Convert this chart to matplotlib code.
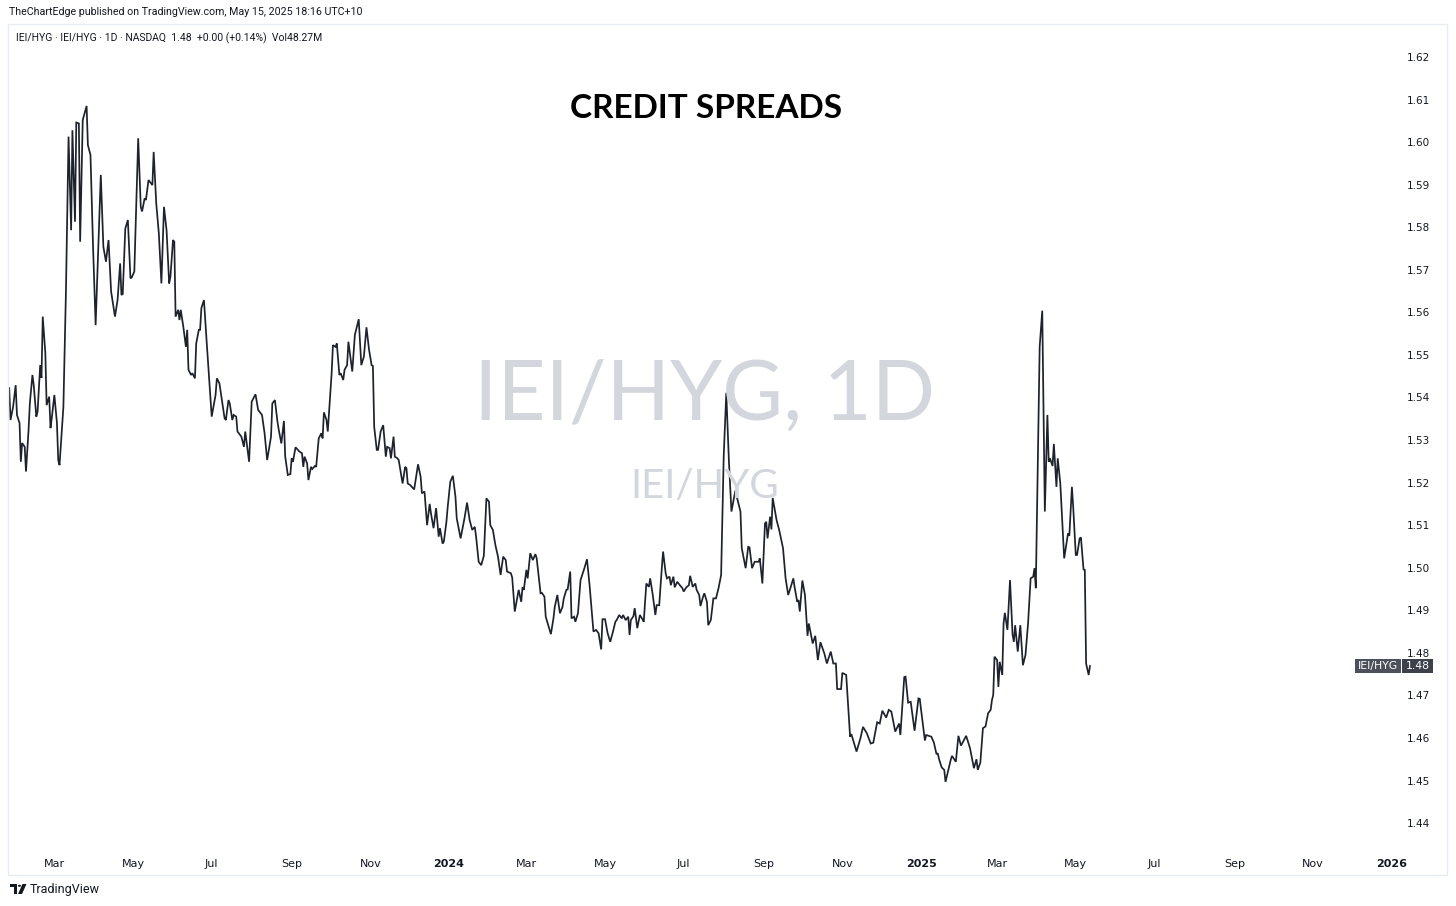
import matplotlib
matplotlib.use("Agg")
import matplotlib.pyplot as plt
import matplotlib.dates as mdates
from matplotlib.patches import Rectangle, Polygon, Circle
import numpy as np
import pandas as pd

# ---------------- data (IEI/HYG daily close) ----------------
dates_2023 = [
    "01-25", "01-26", "01-28", "01-30", "01-31", "02-02", "02-03", "02-04", "02-06", "02-07",
    "02-09", "02-10", "02-12", "02-13", "02-15", "02-16", "02-18", "02-19", "02-20", "02-22",
    "02-23", "02-25", "02-26", "02-27", "03-01", "03-03", "03-04", "03-05", "03-08", "03-10",
    "03-12", "03-14", "03-15", "03-17", "03-18", "03-20", "03-21", "03-23", "03-26", "03-27",
    "03-29", "03-31", "04-02", "04-06", "04-08", "04-10", "04-12", "04-14", "04-17", "04-19",
    "04-21", "04-22", "04-23", "04-25", "04-27", "04-29", "04-30", "05-02", "05-05", "05-07",
    "05-08", "05-10", "05-11", "05-13", "05-15", "05-16", "05-17", "05-19", "05-21", "05-23",
    "05-25", "05-27", "05-29", "05-30", "06-01", "06-02", "06-03", "06-05", "06-06", "06-07",
    "06-09", "06-11", "06-12", "06-13", "06-15", "06-16", "06-18", "06-19", "06-21", "06-22",
    "06-23", "06-25", "06-27", "07-01", "07-03", "07-04", "07-05", "07-07", "07-11", "07-12",
    "07-14", "07-15", "07-17", "07-18", "07-20", "07-21", "07-23", "07-24", "07-26", "07-27",
    "07-30", "08-01", "08-03", "08-04", "08-06", "08-07", "08-09", "08-11", "08-13", "08-16",
    "08-17", "08-19", "08-21", "08-22", "08-24", "08-26", "08-27", "08-29", "08-31", "09-01",
    "09-02", "09-04", "09-07", "09-09", "09-10", "09-11", "09-13", "09-14", "09-16", "09-17",
    "09-19", "09-20", "09-22", "09-24", "09-25", "09-26", "09-28", "09-29", "10-02", "10-03",
    "10-05", "10-06", "10-08", "10-09", "10-11", "10-12", "10-14", "10-15", "10-18", "10-20",
    "10-23", "10-25", "10-27", "10-29", "10-31", "11-02", "11-03", "11-04", "11-06", "11-07",
    "11-09", "11-11", "11-13", "11-14", "11-16", "11-17", "11-19", "11-20", "11-22", "11-23",
    "11-26", "11-28", "11-29", "11-30", "12-02", "12-05", "12-08", "12-10", "12-11", "12-13",
    "12-15", "12-17", "12-18", "12-20", "12-22", "12-24", "12-25", "12-27", "12-28", "12-30",
    "12-31",
]
values_2023 = [
    1.5422, 1.5347, 1.5378, 1.5429, 1.5359, 1.5340, 1.5249, 1.5293, 1.5284, 1.5226,
    1.5324, 1.5387, 1.5453, 1.5429, 1.5355, 1.5367, 1.5476, 1.5446, 1.5590, 1.5504,
    1.5382, 1.5402, 1.5328, 1.5352, 1.5406, 1.5340, 1.5253, 1.5241, 1.5378, 1.5652,
    1.6013, 1.5793, 1.6028, 1.5813, 1.6046, 1.6044, 1.5766, 1.6052, 1.6085, 1.5993,
    1.5970, 1.5754, 1.5570, 1.5923, 1.5754, 1.5719, 1.5770, 1.5649, 1.5590, 1.5629,
    1.5715, 1.5641, 1.5643, 1.5797, 1.5817, 1.5680, 1.5682, 1.5696, 1.6009, 1.5848,
    1.5837, 1.5868, 1.5864, 1.5911, 1.5903, 1.5899, 1.5977, 1.5856, 1.5786, 1.5668,
    1.5848, 1.5793, 1.5668, 1.5684, 1.5770, 1.5766, 1.5590, 1.5606, 1.5582, 1.5606,
    1.5566, 1.5519, 1.5559, 1.5465, 1.5453, 1.5457, 1.5445, 1.5527, 1.5559, 1.5559,
    1.5610, 1.5629, 1.5535, 1.5355, 1.5390, 1.5406, 1.5445, 1.5433, 1.5351, 1.5347,
    1.5394, 1.5386, 1.5347, 1.5359, 1.5355, 1.5320, 1.5312, 1.5308, 1.5284, 1.5320,
    1.5249, 1.5390, 1.5402, 1.5407, 1.5371, 1.5367, 1.5359, 1.5316, 1.5253, 1.5308,
    1.5386, 1.5394, 1.5343, 1.5324, 1.5292, 1.5345, 1.5261, 1.5218, 1.5220, 1.5257,
    1.5249, 1.5283, 1.5273, 1.5269, 1.5237, 1.5261, 1.5245, 1.5206, 1.5237, 1.5232,
    1.5239, 1.5237, 1.5304, 1.5316, 1.5304, 1.5365, 1.5347, 1.5320, 1.5457, 1.5523,
    1.5519, 1.5527, 1.5453, 1.5457, 1.5441, 1.5465, 1.5476, 1.5531, 1.5461, 1.5547,
    1.5584, 1.5476, 1.5496, 1.5565, 1.5512, 1.5476, 1.5474, 1.5331, 1.5277, 1.5277,
    1.5320, 1.5335, 1.5261, 1.5284, 1.5281, 1.5257, 1.5308, 1.5261, 1.5257, 1.5253,
    1.5198, 1.5237, 1.5234, 1.5198, 1.5194, 1.5184, 1.5243, 1.5214, 1.5175, 1.5179,
    1.5100, 1.5150, 1.5128, 1.5093, 1.5140, 1.5073, 1.5093, 1.5057, 1.5061, 1.5108,
    1.5143,
]
dates_2024 = [
    "01-02", "01-04", "01-06", "01-07", "01-10", "01-13", "01-15", "01-17", "01-19", "01-21",
    "01-22", "01-24", "01-26", "01-28", "01-30", "02-01", "02-02", "02-04", "02-06", "02-08",
    "02-10", "02-12", "02-14", "02-15", "02-18", "02-19", "02-21", "02-24", "02-26", "02-27",
    "02-28", "03-01", "03-02", "03-04", "03-06", "03-08", "03-09", "03-12", "03-13", "03-15",
    "03-16", "03-19", "03-20", "03-22", "03-23", "03-25", "03-27", "03-29", "03-30", "04-01",
    "04-02", "04-04", "04-05", "04-07", "04-08", "04-10", "04-12", "04-15", "04-17", "04-19",
    "04-21", "04-22", "04-24", "04-26", "04-28", "04-29", "05-01", "05-03", "05-05", "05-07",
    "05-09", "05-10", "05-12", "05-14", "05-15", "05-17", "05-19", "05-20", "05-21", "05-23",
    "05-24", "05-26", "05-28", "05-30", "05-31", "06-02", "06-04", "06-05", "06-07", "06-09",
    "06-10", "06-12", "06-14", "06-15", "06-17", "06-18", "06-20", "06-21", "06-23", "06-24",
    "06-26", "06-28", "06-30", "07-01", "07-03", "07-05", "07-06", "07-08", "07-10", "07-11",
    "07-13", "07-14", "07-16", "07-17", "07-19", "07-20", "07-22", "07-24", "07-26", "07-28",
    "07-30", "08-01", "08-03", "08-05", "08-07", "08-10", "08-14", "08-15", "08-18", "08-20",
    "08-21", "08-23", "08-25", "08-28", "08-29", "08-31", "09-02", "09-03", "09-04", "09-06",
    "09-07", "09-08", "09-11", "09-13", "09-16", "09-18", "09-20", "09-22", "09-24", "09-25",
    "09-27", "09-28", "09-29", "10-01", "10-03", "10-05", "10-06", "10-09", "10-11", "10-13",
    "10-15", "10-18", "10-20", "10-23", "10-25", "10-27", "10-28", "10-31", "11-01", "11-04",
    "11-07", "11-08", "11-12", "11-15", "11-17", "11-20", "11-23", "11-25", "11-28", "11-30",
    "12-02", "12-05", "12-07", "12-09", "12-12", "12-15", "12-16", "12-19", "12-20", "12-22",
    "12-24", "12-27", "12-30", "12-31",
]
values_2024 = [
    1.5202, 1.5216, 1.5167, 1.5116, 1.5069, 1.5116, 1.5153, 1.5112, 1.5089, 1.5096,
    1.5073, 1.5014, 1.5006, 1.5028, 1.5163, 1.5155, 1.5100, 1.5089, 1.5053, 1.5026,
    1.4983, 1.5026, 1.5018, 1.4991, 1.4987, 1.4977, 1.4897, 1.4948, 1.4920, 1.4954,
    1.4948, 1.4995, 1.4975, 1.5034, 1.5018, 1.5032, 1.5022, 1.4940, 1.4941, 1.4932,
    1.4885, 1.4854, 1.4844, 1.4881, 1.4908, 1.4936, 1.4893, 1.4908, 1.4928, 1.4948,
    1.4949, 1.4991, 1.4881, 1.4885, 1.4873, 1.4893, 1.4971, 1.4999, 1.5020, 1.4959,
    1.4885, 1.4850, 1.4854, 1.4846, 1.4808, 1.4879, 1.4879, 1.4846, 1.4826, 1.4848,
    1.4873, 1.4877, 1.4889, 1.4881, 1.4889, 1.4877, 1.4885, 1.4842, 1.4877, 1.4886,
    1.4905, 1.4858, 1.4889, 1.4879, 1.4873, 1.4963, 1.4955, 1.4975, 1.4936, 1.4889,
    1.4912, 1.4912, 1.4999, 1.5038, 1.4987, 1.4975, 1.4979, 1.4959, 1.4979, 1.4954,
    1.4967, 1.4959, 1.4952, 1.4944, 1.4954, 1.4959, 1.4981, 1.4955, 1.4963, 1.4948,
    1.4936, 1.4910, 1.4932, 1.4940, 1.4920, 1.4865, 1.4877, 1.4928, 1.4928, 1.4952,
    1.4983, 1.5261, 1.5411, 1.5253, 1.5132, 1.5181, 1.5132, 1.5046, 1.4999, 1.5049,
    1.5048, 1.4999, 1.5014, 1.5014, 1.5022, 1.4963, 1.5104, 1.5108, 1.5069, 1.5120,
    1.5090, 1.5164, 1.5112, 1.5089, 1.5046, 1.4975, 1.4936, 1.4955, 1.4975, 1.4954,
    1.4920, 1.4924, 1.4897, 1.4970, 1.4936, 1.4840, 1.4869, 1.4822, 1.4840, 1.4783,
    1.4825, 1.4799, 1.4775, 1.4803, 1.4775, 1.4775, 1.4715, 1.4715, 1.4753, 1.4748,
    1.4603, 1.4609, 1.4568, 1.4599, 1.4626, 1.4611, 1.4587, 1.4589, 1.4637, 1.4634,
    1.4664, 1.4648, 1.4666, 1.4662, 1.4615, 1.4634, 1.4607, 1.4743, 1.4744, 1.4683,
    1.4685, 1.4617, 1.4693, 1.4692,
]
dates_2025 = [
    "01-04", "01-05", "01-09", "01-11", "01-13", "01-14", "01-15", "01-17", "01-19", "01-20",
    "01-24", "01-25", "01-28", "01-30", "02-01", "02-05", "02-08", "02-11", "02-13", "02-14",
    "02-16", "02-18", "02-20", "02-22", "02-24", "02-25", "02-26", "02-27", "03-01", "03-02",
    "03-03", "03-05", "03-06", "03-07", "03-09", "03-11", "03-13", "03-14", "03-15", "03-17",
    "03-19", "03-21", "03-23", "03-25", "03-27", "03-29", "03-30", "03-31", "04-03", "04-05",
    "04-07", "04-09", "04-10", "04-11", "04-13", "04-14", "04-16", "04-17", "04-19", "04-22",
    "04-25", "04-26", "04-28", "04-29", "05-01", "05-02", "05-04", "05-05", "05-07", "05-08",
    "05-09", "05-11", "05-12",
]
values_2025 = [
    1.4594, 1.4607, 1.4603, 1.4589, 1.4562, 1.4564, 1.4550, 1.4531, 1.4525, 1.4497,
    1.4548, 1.4558, 1.4544, 1.4605, 1.4582, 1.4605, 1.4576, 1.4529, 1.4550, 1.4525,
    1.4542, 1.4623, 1.4627, 1.4658, 1.4666, 1.4689, 1.4701, 1.4791, 1.4783, 1.4720,
    1.4779, 1.4748, 1.4869, 1.4894, 1.4854, 1.4971, 1.4842, 1.4826, 1.4865, 1.4803,
    1.4865, 1.4771, 1.4795, 1.4869, 1.4975, 1.4979, 1.4999, 1.4952, 1.5519, 1.5604,
    1.5132, 1.5359, 1.5249, 1.5257, 1.5239, 1.5291, 1.5190, 1.5257, 1.5198, 1.5022,
    1.5081, 1.5075, 1.5190, 1.5143, 1.5030, 1.5030, 1.5069, 1.5071, 1.4996, 1.4995,
    1.4775, 1.4748, 1.4769,
]

y_ticks = [1.44, 1.45, 1.46, 1.47, 1.48, 1.49, 1.50, 1.51, 1.52, 1.53,
           1.54, 1.55, 1.56, 1.57, 1.58, 1.59, 1.60, 1.61, 1.62]
x_tick_dates = ["2023-03-01", "2023-05-01", "2023-07-01", "2023-09-01", "2023-11-01",
                "2024-01-01", "2024-03-01", "2024-05-01", "2024-07-01", "2024-09-01",
                "2024-11-01", "2025-01-01", "2025-03-01", "2025-05-01", "2025-07-01",
                "2025-09-01", "2025-11-01", "2026-01-01"]
x_tick_labels = ["Mar", "May", "Jul", "Sep", "Nov", "2024", "Mar", "May", "Jul", "Sep",
                 "Nov", "2025", "Mar", "May", "Jul", "Sep", "Nov", "2026"]

symbol = "IEI/HYG"
last_label = "1.48"
title = "CREDIT SPREADS"
publish_line = "TheChartEdge published on TradingView.com, May 15, 2025 18:16 UTC+10"
legend_line = "IEI/HYG · IEI/HYG · 1D · NASDAQ  1.48  +0.00 (+0.14%)  Vol48.27M"

# ---------------- build series ----------------
dates = pd.to_datetime(["2023-" + d for d in dates_2023] +
                       ["2024-" + d for d in dates_2024] +
                       ["2025-" + d for d in dates_2025])
values = np.array(values_2023 + values_2024 + values_2025)

# ---------------- figure ----------------
W, H = 1456, 906
fig = plt.figure(figsize=(W / 100, H / 100), dpi=100)
fig.patch.set_facecolor("white")

def fx(px):
    return px / W

def fy(py):
    return 1 - py / H

TEXT = "#131722"
LINE = "#1e222d"

# chart frame
fig.patches.append(Rectangle((fx(8), fy(875)), fx(1447) - fx(8), fy(24) - fy(875),
                             transform=fig.transFigure, fill=False,
                             edgecolor="#e9ecf2", linewidth=1.0, zorder=0))

ax = fig.add_axes([fx(8), fy(848), fx(1400) - fx(8), fy(25) - fy(848)])
ax.set_facecolor("none")
for s in ax.spines.values():
    s.set_visible(False)

base = mdates.date2num(pd.Timestamp("2024-01-01"))
ax.set_xlim(base - 341.95, base + 737.4)
ax.set_ylim(1.43415, 1.62752)

# watermark
wm_font = "Lato"
fig.text(fx(705), fy(397), "IEI/HYG, 1D", fontsize=60, family=wm_font,
         color="#d3d6dd", ha="center", va="center", zorder=0)
fig.text(fx(705), fy(487), "IEI/HYG", fontsize=29, family=wm_font,
         color="#d3d6dd", ha="center", va="center", zorder=0)

ax.plot(dates, values, color=LINE, linewidth=1.25, zorder=3, solid_joinstyle="miter")

# axes ticks
ax.yaxis.tick_right()
ax.set_yticks(y_ticks)
ax.set_yticklabels([f"{v:.2f}" for v in y_ticks])
ax.tick_params(axis="y", length=0, pad=5, labelsize=7.5, labelcolor=TEXT)
for lab in ax.get_yticklabels():
    lab.set_family("DejaVu Sans")

ax.set_xticks(mdates.date2num(pd.to_datetime(x_tick_dates)))
ax.set_xticklabels(x_tick_labels)
ax.tick_params(axis="x", length=0, pad=8, labelsize=8, labelcolor=TEXT)
for lab in ax.get_xticklabels():
    lab.set_family("DejaVu Sans")
    if lab.get_text().isdigit():
        lab.set_fontweight("bold")

# texts
fig.text(fx(9), fy(12), publish_line, fontsize=7.7, family="Roboto", color=TEXT,
         ha="left", va="center")
fig.text(fx(16), fy(38), legend_line, fontsize=7.5, family="Roboto", color=TEXT,
         ha="left", va="center")
fig.text(fx(706), fy(109), title, fontsize=24, family="Lato", fontweight="bold",
         color="black", ha="center", va="center")

# last price label boxes
fig.canvas.draw()
last_y = ax.transData.transform((ax.get_xlim()[1], values[-1]))[1]
box_h = 14
fig.patches.append(Rectangle((1355, last_y - box_h / 2), 46, box_h, transform=None,
                             facecolor="#4c505b", edgecolor="none", zorder=5))
fig.patches.append(Rectangle((1402, last_y - box_h / 2), 31, box_h, transform=None,
                             facecolor="#3d414c", edgecolor="none", zorder=5))
fig.text(1378 / W, last_y / H, symbol, fontsize=7.8, color="white", ha="center",
         va="center", family="DejaVu Sans", zorder=6)
fig.text(1417.5 / W, last_y / H, last_label, fontsize=7.8, color="white", ha="center",
         va="center", family="DejaVu Sans", zorder=6)

# TradingView logo (approximation) + wordmark
logo = "#131722"
fig.patches.append(Polygon([[fx(10), fy(884)], [fx(17), fy(884)], [fx(17), fy(894)],
                            [fx(14), fy(894)], [fx(14), fy(887)], [fx(10), fy(887)]],
                           closed=True, transform=fig.transFigure, facecolor=logo,
                           edgecolor="none"))
fig.patches.append(Circle((fx(19.5), fy(885.8)), 1.6 / W, transform=fig.transFigure,
                          facecolor=logo, edgecolor="none"))
fig.patches.append(Polygon([[fx(22.5), fy(884)], [fx(26.5), fy(884)], [fx(22), fy(894)],
                            [fx(18), fy(894)]], closed=True, transform=fig.transFigure,
                           facecolor=logo, edgecolor="none"))
fig.text(fx(30), fy(889), "TradingView", fontsize=9, family="Roboto", color=TEXT,
         ha="left", va="center")

fig.savefig("out.png", dpi=100, facecolor="white")
